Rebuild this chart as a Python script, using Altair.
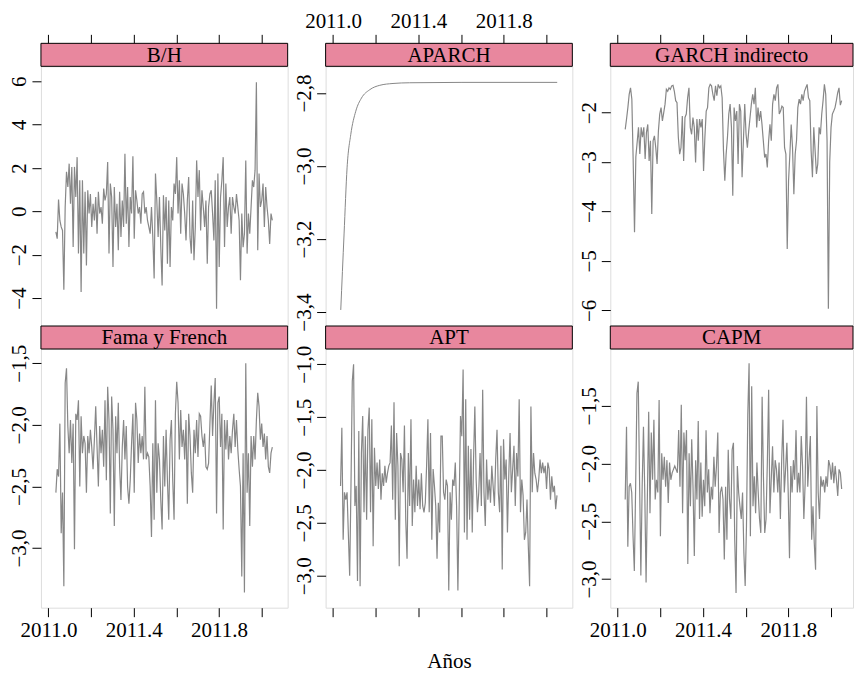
import altair as alt
import numpy as np
import pandas as pd

FONT = "Liberation Serif"
LINE = "#878787"
STRIP = "#E8879E"
FS = 21

x_ticks = [2011.0, 2011.2, 2011.4, 2011.6, 2011.8, 2012.0]
t_start, t_end = 2011.035, 2012.05

bh_vals = [-0.95, -1.26, 0.54, -0.42, -0.72, -0.88, -3.62, 0.2, 1.82, 1.12, 2.2, 0.35, 2.05, -1.65, 2.05, 0.66,
           2.5, -1.95, 1.43, -3.72, 1.43, -1.95, 0.9, -2.5, 0.97, -0.1, 0.8, -0.72, 0.35, -0.42, 0.66, -1.03,
           0.9, -0.1, 0.2, -0.57, 1.05, 0.5, 0.8, 2.28, -1.95, 1.28, 0.66, -2.57, 1.12, -0.72, 0.35, -1.8, 0.9,
           -1.18, 0.5, -0.72, 2.66, -0.57, 1.12, -1.65, 0.66, -0.1, 2.54, -1.26, 0.97, 0.5, -0.1, 0.2, -0.57,
           0.8, 0.9, -0.1, 0.2, -0.42, -0.72, -1.03, 0.2, -1.18, -3.1, 1.74, 0.5, -1.18, 0.66, -1.65, -3.42,
           0.74, -0.88, 0.66, -2.42, 0.5,
           -2.57, 0.2, -0.42, 1.28, 0.8, 2.5, -0.1, 1.43, -1.03, 1.28, 0.8, -0.1, -1.34, 0.5, 1.58, -1.18,
           -1.95, 0.5, -2.26, -0.72, 2.35, 0.66, 1.9, -0.88, 0.97, 0.2, -0.72, 0.5, -2.42, 0.2, 0.8, 0.97,
           -0.1, -1.34, 1.43, -4.49, 1.74, -2.57, 0.66, 1.43, 2.5, -1.65, 1.28, -0.72, 0.2, 0.66, -1.03, 0.66,
           0.2, -0.1, 0.8, 0.2, -0.42, -3.18, -0.1, -1.65, -1.03, 2.35, -1.95, -0.1, -1.03, 0.2, 1.43, 1.12,
           1.9, 5.95, -1.8, 1.74, 0.2, 0.5, 1.28, -0.72, 1.12, 0.2, -0.42, -1.5, -0.1, -0.42]

aparch_t = [2011.036, 2011.0515, 2011.0656, 2011.0829, 2011.1063, 2011.133, 2011.172, 2011.219,
            2011.281, 2011.359, 2011.6, 2012.051]
aparch_vals = [-3.394, -3.186, -3.005, -2.914, -2.850, -2.814, -2.791, -2.779, -2.774, -2.772,
               -2.771, -2.771]

garch_vals = [-2.34, -2.13, -1.9, -1.63, -1.5, -1.73, -2.98, -4.42, -2.9, -2.6, -2.3, -2.84, -2.3, -2.5,
              -2.3, -2.94, -2.4, -2.24, -2.98, -2.57, -4.05, -2.57, -2.47, -2.71, -3.04, -2.37, -2.03,
              -1.9, -2.17, -2.0, -1.83, -1.53, -1.57, -1.5, -1.53, -1.46, -1.45, -1.57, -1.76, -1.8, -2.5,
              -2.84, -2.71, -2.07, -2.98, -2.1, -2.03, -1.7, -1.5, -2.3, -2.44, -2.1, -2.3, -3.01, -2.13,
              -2.57, -2.13, -2.3, -2.13, -3.18, -2.5, -1.97, -1.9, -1.5, -1.43, -1.46, -1.63, -1.76,
              -1.46, -1.66, -1.43, -1.5, -1.46, -1.7, -2.77, -3.38,
              -2.84, -2.5, -2.03, -1.83, -2.3, -3.68, -1.9, -2.17, -1.97, -3.04, -1.83, -1.97, -3.31,
              -2.57, -1.83, -2.44, -2.71, -2.37, -2.1, -1.83, -1.63, -1.83, -1.5, -2.3, -1.9, -2.17,
              -1.97, -2.24, -2.57, -2.91, -2.84, -3.11, -2.57, -2.24, -2.57, -1.83, -1.63, -1.76, -1.5,
              -1.43, -2.03, -1.97, -1.87, -1.9, -2.71, -2.84, -4.76, -3.38, -2.84, -2.24, -2.71, -3.65,
              -2.84, -2.57, -1.9, -1.73, -1.83, -1.63, -1.76, -1.57, -1.5, -1.43, -1.7, -1.76, -2.77,
              -3.31, -2.3, -2.77, -3.24, -3.04, -2.3, -2.44, -2.03, -1.76, -1.43, -1.63, -2.57, -5.97,
              -3.0, -2.3, -2.03, -1.97, -1.9, -1.76, -1.6, -1.5, -1.85, -1.76]

fama_vals = [-2.55, -2.36, -2.42, -1.99, -2.88, -2.55, -3.31, -1.66, -1.54, -2.01, -2.23, -1.96, -2.31,
             -1.99, -3.01, -1.91, -1.96, -1.8, -2.5, -1.93, -2.23, -2.09, -2.15, -2.55, -2.09, -2.23,
             -2.04, -2.18, -2.36, -2.12, -1.85, -2.18, -2.5, -2.01, -2.23, -2.04, -2.34, -1.8, -2.45,
             -1.69, -1.96, -2.72, -1.77, -2.04, -2.82, -1.93, -2.23, -1.82, -2.34, -2.61, -2.18, -1.96,
             -2.28, -2.01, -2.5, -2.64, -2.45, -2.15, -1.91, -2.55, -1.82, -1.96, -2.31, -2.07, -2.23,
             -2.09, -2.28, -1.69, -2.28, -2.23, -2.26, -2.5, -2.91, -2.15, -2.77, -1.8, -2.55, -2.15,
             -2.28, -2.61, -2.85, -2.09, -2.5, -2.04, -2.45, -2.77,
             -2.12, -1.96, -2.45, -2.77, -1.91, -1.65, -1.82, -2.28, -1.88, -2.18, -2.04, -2.28, -1.96,
             -2.64, -1.91, -2.09, -2.39, -2.55, -2.04, -2.23, -1.96, -2.26, -1.91, -1.93, -2.09, -2.18,
             -2.07, -2.34, -2.36, -2.31, -1.99, -1.68, -2.09, -1.82, -1.62, -2.72, -1.82, -1.77, -2.18,
             -1.91, -2.85, -1.96, -2.2, -1.96, -2.28, -2.09, -2.23, -2.04, -1.91, -2.18, -1.96, -2.2,
             -2.36, -2.5, -3.23, -2.23, -3.36, -1.5, -2.55, -2.23, -2.82, -2.09, -2.34, -2.09, -2.28,
             -1.96, -1.74, -1.85, -2.12, -1.99, -2.18, -2.07, -2.28, -2.09, -2.34, -2.39, -2.23, -2.18]

apt_vals = [-2.15, -1.6, -2.66, -2.21, -2.28, -2.21, -2.61, -3.0, -2.15, -1.16, -1.0, -2.34, -2.15, -3.05,
            -1.63, -3.1, -1.84, -1.49, -2.4, -1.68, -2.47, -1.62, -1.41, -2.4, -1.52, -2.72, -1.79, -2.15,
            -1.93, -2.18, -1.9, -2.28, -2.03, -2.15, -1.96, -2.12, -2.03, -1.96, -1.93, -1.58, -2.28,
            -1.36, -2.47, -1.65, -1.96, -2.91, -1.84, -1.9, -2.21, -1.58, -2.47, -2.84, -1.84, -2.34,
            -1.52, -2.53, -2.09, -2.4, -1.96, -2.34, -2.09, -2.37, -2.03, -2.34, -2.4, -2.31, -1.96,
            -1.52, -2.4, -1.65, -2.66, -1.99, -2.15, -2.34, -2.84, -2.31, -2.59, -1.68, -1.68, -2.21,
            -2.28, -2.09, -2.15,
            -3.14, -2.21, -2.47, -2.09, -2.15, -1.93, -2.34, -3.14, -2.31, -1.49, -1.68, -1.05, -2.59,
            -1.33, -2.66, -1.77, -2.47, -1.8, -2.59, -1.9, -1.4, -2.09, -2.4, -2.21, -1.84, -2.34, -1.24,
            -2.21, -2.53, -1.9, -2.28, -2.09, -2.31, -1.96, -2.15, -2.34, -1.9, -1.62, -2.21, -2.4,
            -1.77, -2.94, -1.71, -2.09, -1.9, -2.59, -2.06, -1.65, -2.21, -1.99, -1.77, -2.34, -1.84,
            -2.06, -1.33, -2.4, -2.09, -2.24, -2.66, -2.59, -2.28, -2.72, -3.1, -1.4, -2.21, -1.84,
            -2.03, -2.09, -2.21, -2.09, -1.9, -2.03, -1.93, -2.03, -1.96, -2.18, -1.93, -1.99, -2.28,
            -2.06, -2.21, -2.15, -2.37, -2.24]

capm_vals = [-2.31, -1.68, -2.72, -2.2, -2.17, -2.25, -2.63, -2.93, -2.2, -1.39, -1.29, -2.14, -2.97,
             -2.2, -1.68, -2.25, -3.03, -2.28, -1.55, -2.43, -1.73, -2.14, -1.62, -2.31, -2.14, -2.25,
             -1.45, -2.63, -1.91, -2.14, -1.94, -2.2, -1.97, -2.34, -1.99, -2.14, -2.08, -2.05, -2.02,
             -2.05, -2.08, -1.71, -2.2, -1.49, -2.43, -1.73, -1.97, -1.71, -2.87, -1.91, -2.37, -1.79,
             -2.2, -2.8, -1.97, -2.31, -1.63, -2.48, -1.99, -2.46, -2.14, -2.37, -1.71, -2.25, -2.05,
             -2.43, -2.2, -2.31, -1.94, -2.2, -2.02, -1.73, -2.6, -2.25, -2.2, -2.31, -2.83, -2.2, -2.66,
             -1.88, -2.31,
             -2.48, -1.88, -1.82, -2.66, -3.12, -2.02, -2.25, -2.37, -2.48, -2.25, -2.77, -3.06, -2.54,
             -1.58, -1.13, -2.63, -1.33, -2.37, -2.11, -2.43, -1.99, -2.25, -2.48, -2.6, -1.42, -2.11,
             -2.6, -2.48, -1.99, -1.36, -2.43, -2.14, -1.85, -2.25, -1.97, -2.05, -2.25, -1.99, -2.48,
             -1.97, -1.62, -2.25, -2.05, -1.82, -2.25, -2.82, -2.02, -2.25, -1.97, -2.14, -1.71, -2.25,
             -2.08, -2.25, -1.76, -2.02, -2.48, -2.17, -1.42, -2.2, -1.97, -1.76, -2.66, -2.37, -2.69,
             -2.92, -1.5, -2.25, -2.48, -2.11, -2.2, -2.14, -2.25, -2.11, -2.2, -1.97, -2.02, -2.14,
             -1.99, -2.17, -2.02, -2.14, -2.28, -2.05, -2.08, -2.22]

PX_PER_YEAR = 213.5
X0 = 2010.965
STRIP_H = 23


def xaxis_expr():
    return "round(datum.value*10) % 4 == 2 ? format(datum.value, '.1f') : ''"


def panel(name, t, v, ydom, yticks, ydec, width, height, xorient, xlabels, xtitle=None,
          interp="linear", sw=1.2):
    df = pd.DataFrame({"t": t, "v": v})
    if ydec:
        yexpr = "replace(replace(format(datum.value, '.1f'), '.', ','), '-', '\u2212')"
    else:
        yexpr = "replace(format(datum.value, 'd'), '-', '\u2212')"
    xax = dict(orient=xorient, values=x_ticks, labels=xlabels, labelExpr=xaxis_expr(),
               tickSize=9, tickColor="black", labelPadding=3, domain=False, grid=False,
               labelFont=FONT, labelFontSize=FS, labelColor="black", labelFlush=False,
               labelOverlap=False)
    if xorient == "top":
        xax["offset"] = STRIP_H
    if xtitle:
        xax.update(title=xtitle, titleFont=FONT, titleFontSize=FS, titleFontWeight="normal",
                   titleColor="black", titlePadding=33)
    else:
        xax["title"] = None
    yax = alt.Axis(values=yticks, labelExpr=yexpr, labelAngle=270, labelAlign="center",
                   labelBaseline="alphabetic", tickSize=9, tickColor="black", labelPadding=6,
                   domain=False, grid=False, labelFont=FONT, labelFontSize=FS,
                   labelColor="black", labelFlush=False, labelOverlap=False, title=None)
    xdom = [X0, X0 + width / PX_PER_YEAR]
    line = alt.Chart(df).mark_line(color=LINE, strokeWidth=sw, interpolate=interp, clip=True).encode(
        x=alt.X("t:Q", scale=alt.Scale(domain=xdom, nice=False, zero=False), axis=alt.Axis(**xax)),
        y=alt.Y("v:Q", scale=alt.Scale(domain=ydom, nice=False, zero=False), axis=yax),
    )
    lab = pd.DataFrame({"label": [name]})
    strip = alt.Chart(lab).mark_rect(fill=STRIP, stroke="black", strokeWidth=1).encode(
        x=alt.value(0), x2=alt.value(width), y=alt.value(-STRIP_H), y2=alt.value(0))
    text = alt.Chart(lab).mark_text(font=FONT, fontSize=FS, align="center", baseline="middle",
                                    color="black").encode(
        x=alt.value(width / 2), y=alt.value(-STRIP_H / 2 + 1), text="label:N")
    return alt.layer(line, strip, text).properties(width=width, height=height)


def even_t(vals):
    return list(np.linspace(t_start, t_end, len(vals)))


W12, W3 = 247, 243
H1, H2 = 260, 259

p_bh = panel("B/H", even_t(bh_vals), bh_vals, [-5.29, 6.69], [-4, -2, 0, 2, 4, 6], False,
             W12, H1, "top", False)
p_ap = panel("APARCH", aparch_t, aparch_vals, [-3.438, -2.727], [-3.4, -3.2, -3.0, -2.8], True,
             W12, H1, "top", True, interp="monotone", sw=1.0)
p_ga = panel("GARCH indirecto", even_t(garch_vals), garch_vals, [-6.317, -1.065],
             [-6, -5, -4, -3, -2], False, W3, H1, "top", False)
p_fa = panel("Fama y French", even_t(fama_vals), fama_vals, [-3.484, -1.384],
             [-3.0, -2.5, -2.0, -1.5], True, W12, H2, "bottom", True)
p_apt = panel("APT", even_t(apt_vals), apt_vals, [-3.302, -0.855],
              [-3.0, -2.5, -2.0, -1.5, -1.0], True, W12, H2, "bottom", False, xtitle="Años")
p_ca = panel("CAPM", even_t(capm_vals), capm_vals, [-3.248, -1.007],
             [-3.0, -2.5, -2.0, -1.5], True, W3, H2, "bottom", True)

chart = alt.concat(p_bh, p_ap, p_ga, p_fa, p_apt, p_ca, columns=3,
                   spacing={"row": STRIP_H, "column": 38}, bounds="flush", align="each").properties(
    padding={"left": 8, "top": 9, "right": 0, "bottom": 0}
).configure_view(stroke="black", strokeWidth=1).configure(font=FONT, background="white")

chart.save("out.html", embed_options={"renderer": "svg", "actions": False})
